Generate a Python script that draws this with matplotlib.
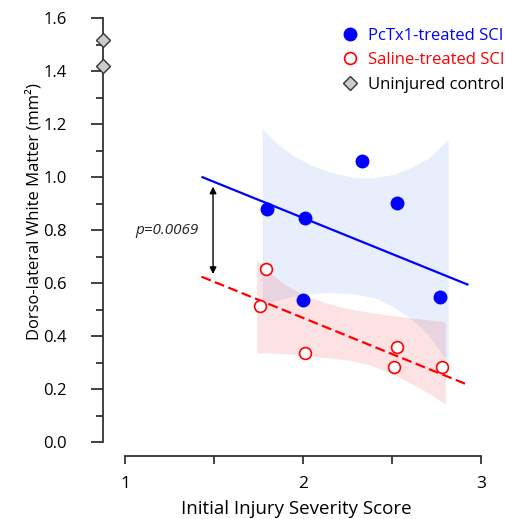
import matplotlib
matplotlib.use("Agg")
import matplotlib.pyplot as plt
import numpy as np

plt.rcParams['font.family'] = ['Open Sans', 'DejaVu Sans']

# ---- data ----
pctx_x = [1.80, 2.01, 2.33, 2.53, 2.00, 2.77]
pctx_y = [0.88, 0.845, 1.062, 0.902, 0.537, 0.549]

saline_x = [1.79, 1.76, 2.01, 2.53, 2.51, 2.78]
saline_y = [0.654, 0.514, 0.338, 0.361, 0.283, 0.284]

control_x = [0.878, 0.878]
control_y = [1.52, 1.42]

fit_x = [1.43, 2.93]
pctx_fit = [1.002, 0.594]
saline_fit = [0.625, 0.216]

pctx_band_x = [1.771, 1.85, 1.95, 2.05, 2.15, 2.292, 2.40, 2.50, 2.60, 2.70, 2.816]
pctx_band_hi = [1.185, 1.130, 1.080, 1.045, 1.020, 0.998, 0.998, 1.010, 1.035, 1.070, 1.141]
pctx_band_lo = [0.518, 0.535, 0.552, 0.562, 0.565, 0.560, 0.545, 0.515, 0.470, 0.410, 0.300]

saline_band_x = [1.74, 1.82, 1.90, 2.00, 2.12, 2.24, 2.36, 2.48, 2.60, 2.70, 2.80]
saline_band_hi = [0.690, 0.635, 0.595, 0.558, 0.528, 0.506, 0.492, 0.480, 0.470, 0.462, 0.455]
saline_band_lo = [0.338, 0.337, 0.334, 0.328, 0.320, 0.312, 0.295, 0.265, 0.225, 0.188, 0.145]

arrow_x = 1.495
arrow_y = [0.965, 0.635]
p_text = "p=0.0069"

x_ticks = [1, 1.5, 2, 2.5, 3]
x_ticklabels = ['1', '', '2', '', '3']
y_major = [0.0, 0.2, 0.4, 0.6, 0.8, 1.0, 1.2, 1.4, 1.6]
y_minor = [0.1, 0.3, 0.5, 0.7, 0.9, 1.1, 1.3, 1.5]

fig = plt.figure(figsize=(5.06, 5.19), dpi=100)
ax = fig.add_axes([0.204, 0.1478, 0.764, 0.8169])

ax.fill_between(pctx_band_x, pctx_band_lo, pctx_band_hi, color=(35/255, 95/255, 235/255), alpha=0.10, lw=0)
ax.fill_between(saline_band_x, saline_band_lo, saline_band_hi, color=(238/255, 22/255, 22/255), alpha=0.12, lw=0)

ax.plot(fit_x, pctx_fit, color='blue', lw=1.6, solid_capstyle='butt')
ax.plot(fit_x, saline_fit, color='red', lw=1.6, dashes=(4.5, 2.0))

ax.plot(pctx_x, pctx_y, 'o', color='blue', ms=9, mec='blue', label='PcTx1-treated SCI', zorder=5)
ax.plot(saline_x, saline_y, 'o', mfc='white', mec='red', ms=8.5, mew=1.2, label='Saline-treated SCI', zorder=5)
ax.plot(control_x, control_y, 'D', mfc='#cccccc', mec='#333333', ms=7.5, mew=1.0,
        label='Uninjured control', clip_on=False, zorder=6)

ax.annotate('', xy=(arrow_x, arrow_y[0]), xytext=(arrow_x, arrow_y[1]),
            arrowprops=dict(arrowstyle='<|-|>', color='black', lw=1.0, mutation_scale=10,
                            shrinkA=0, shrinkB=0))
ax.text(arrow_x - 0.079, (arrow_y[0] + arrow_y[1]) / 2, p_text, style='italic', fontsize=11,
        ha='right', va='center', color='#222222')

ax.set_xlim(0.878, 3.05)
ax.set_ylim(0, 1.6)

for s in ['top', 'right']:
    ax.spines[s].set_visible(False)
ax.spines['bottom'].set_position(('outward', 10))
ax.spines['bottom'].set_bounds(1, 3)
ax.spines['left'].set_bounds(0, 1.6)
for s in ['left', 'bottom']:
    ax.spines[s].set_linewidth(1.3)
    ax.spines[s].set_color('#333333')

ax.set_xticks(x_ticks)
ax.set_xticklabels(x_ticklabels)
ax.set_yticks(y_major)
ax.set_yticklabels([f"{v:.1f}" for v in y_major])
ax.set_yticks(y_minor, minor=True)
ax.tick_params(axis='y', which='major', length=8.5, width=1.3, color='#333333', pad=18, labelsize=12)
ax.tick_params(axis='y', which='minor', length=5, width=1.3, color='#333333')
ax.tick_params(axis='x', which='major', length=6, width=1.3, color='#333333', pad=8, labelsize=12.5)

ax.set_xlabel('Initial Injury Severity Score', fontsize=13.5, labelpad=6)
ax.set_ylabel('Dorso-lateral White Matter (mm²)', fontsize=12)
ax.yaxis.set_label_coords(-0.156, 0.545)

leg = ax.legend(loc='upper left', bbox_to_anchor=(0.586, 1.005), frameon=False, fontsize=12,
                handlelength=1.0, handletextpad=0.6, labelspacing=0.5, borderpad=0.2)
for t, c in zip(leg.get_texts(), ['blue', 'red', 'black']):
    t.set_color(c)

fig.savefig('out.png', dpi=100)
